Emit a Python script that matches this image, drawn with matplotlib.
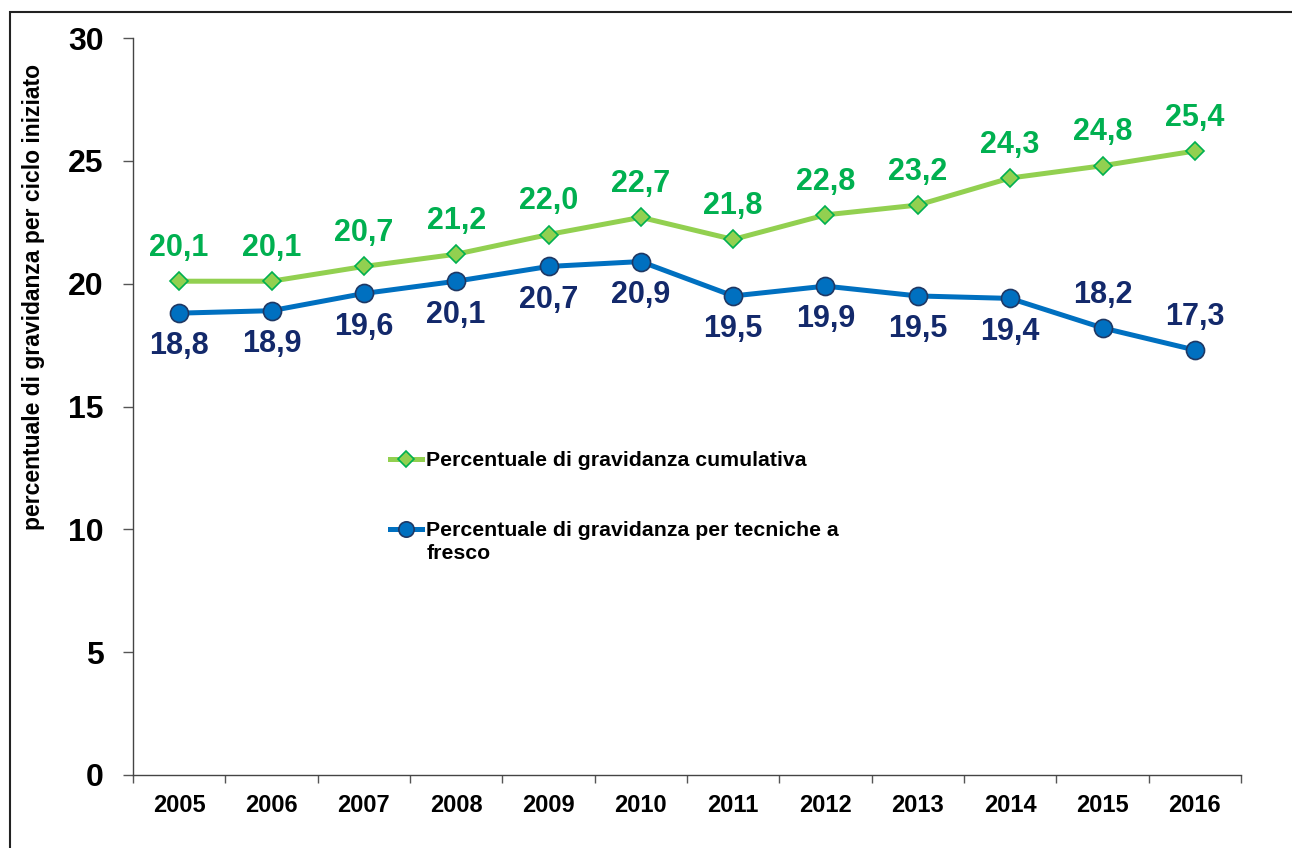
import matplotlib
matplotlib.use("Agg")
import matplotlib.pyplot as plt
from matplotlib.patches import Rectangle

plt.rcParams['font.family'] = ['Liberation Sans', 'DejaVu Sans']
plt.rcParams['font.weight'] = 'bold'

# dati
anni = ['2005', '2006', '2007', '2008', '2009', '2010', '2011', '2012', '2013', '2014', '2015', '2016']
cumulativa = [20.1, 20.1, 20.7, 21.2, 22.0, 22.7, 21.8, 22.8, 23.2, 24.3, 24.8, 25.4]
fresco = [18.8, 18.9, 19.6, 20.1, 20.7, 20.9, 19.5, 19.9, 19.5, 19.4, 18.2, 17.3]
# posizione etichette serie blu: -1 sotto, +1 sopra
pos_fresco = [-1, -1, -1, -1, -1, -1, -1, -1, -1, -1, 1, 1]

verde_linea = '#92D050'
verde_testo = '#00B050'
blu_linea = '#0070C0'
blu_testo = '#13296B'

W, H = 1292, 848
fig = plt.figure(figsize=(W / 100, H / 100), dpi=100)
ax = fig.add_axes([133 / W, 1 - 775 / H, (1241 - 133) / W, (775 - 38) / H])

x = list(range(len(anni)))
l1, = ax.plot(x, cumulativa, color=verde_linea, lw=3.6, marker='D', markersize=9.5,
              markerfacecolor=verde_linea, markeredgecolor=verde_testo, markeredgewidth=1.2,
              label='Percentuale di gravidanza cumulativa', zorder=3)
l2, = ax.plot(x, fresco, color=blu_linea, lw=3.6, marker='o', markersize=13,
              markerfacecolor=blu_linea, markeredgecolor='#1F3864', markeredgewidth=1.2,
              label='Percentuale di gravidanza per tecniche a', zorder=3)

# etichette dei valori
for xi, v in zip(x, cumulativa):
    ax.annotate(f'{v:.1f}'.replace('.', ','), (xi, v), xytext=(0, 24), textcoords='offset points',
                ha='center', va='center', fontsize=22, color=verde_testo, fontweight='bold')
for xi, v, p in zip(x, fresco, pos_fresco):
    ax.annotate(f'{v:.1f}'.replace('.', ','), (xi, v), xytext=(0, 24 * p), textcoords='offset points',
                ha='center', va='center', fontsize=22, color=blu_testo, fontweight='bold')

ax.set_ylim(0, 30)
ax.set_yticks([0, 5, 10, 15, 20, 25, 30])
ax.set_xlim(-0.5, len(anni) - 0.5)
ax.set_xticks([i - 0.5 for i in range(len(anni) + 1)])
ax.set_xticklabels([])
ax.set_xticks(x, minor=True)
ax.set_xticklabels(anni, minor=True)
ax.tick_params(axis='x', which='major', direction='out', length=6, width=1, color='#555555')
ax.tick_params(axis='x', which='minor', length=0, pad=14, labelsize=17)
ax.tick_params(axis='y', direction='out', length=7, width=1, color='#555555', pad=14, labelsize=23)

for s in ['top', 'right']:
    ax.spines[s].set_visible(False)
for s in ['left', 'bottom']:
    ax.spines[s].set_color('#444444')
    ax.spines[s].set_linewidth(1)

ax.set_ylabel('percentuale di gravidanza per ciclo iniziato', fontsize=16.5, fontweight='bold')
ax.yaxis.set_label_coords((45 - 133) / (1241 - 133), (775 - 297) / (775 - 38))

leg = ax.legend(handles=[l1, l2], loc='upper left', bbox_to_anchor=(371 / W, 1 - 432 / H),
                bbox_transform=fig.transFigure, frameon=False, fontsize=15.3,
                handlelength=1.5, handletextpad=0.2, labelspacing=2.4, markerscale=0.85)
ax.annotate('fresco', xy=(0, 0), xycoords=leg.get_texts()[1], xytext=(0, -3),
            textcoords='offset points', ha='left', va='top', fontsize=15.3, fontweight='bold',
            zorder=10)

# cornice
fig.add_artist(Rectangle((10 / W, -0.5), 2, 0.5 + 1 - 12 / H, transform=fig.transFigure,
                         fill=False, edgecolor='#222222', lw=1.5))

fig.savefig('out.png', dpi=100)
